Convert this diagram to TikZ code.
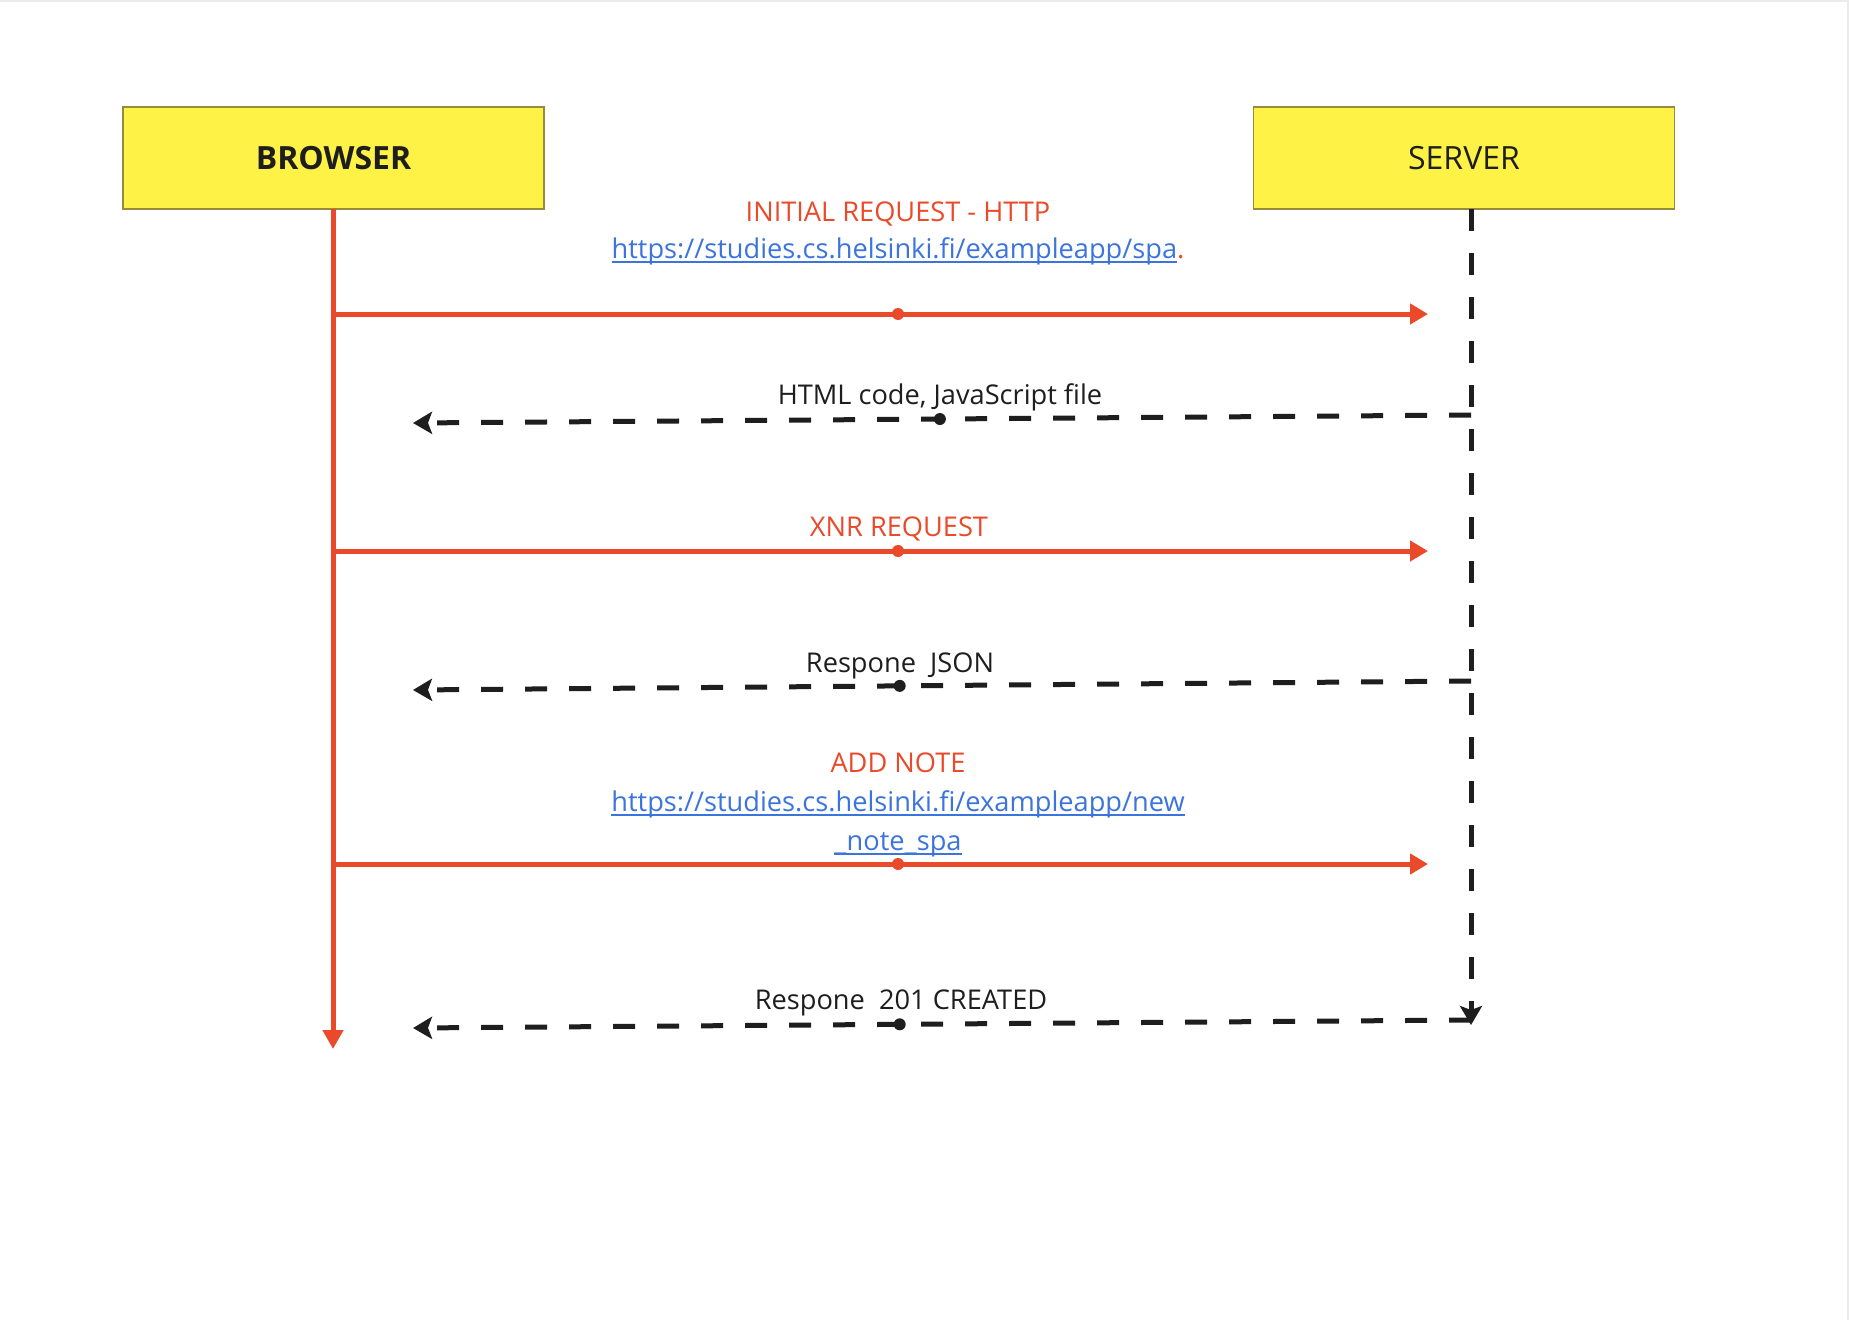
\documentclass[tikz,border=0pt]{standalone}
\usepackage{fontspec}
\setmainfont{Open Sans}
\usetikzlibrary{arrows.meta}
\definecolor{boxyellow}{RGB}{255,242,70}
\definecolor{boxedge}{RGB}{150,140,60}
\definecolor{req}{RGB}{234,74,42}
\definecolor{link}{RGB}{60,116,222}
\definecolor{ink}{RGB}{30,30,30}
\newcommand\lnk[1]{\setbox0\hbox{#1}\rlap{\rule[-4.5pt]{\wd0}{1.7pt}}\box0}
\begin{document}
\begin{tikzpicture}[x=1pt,y=-1pt,
  actor/.style={draw=boxedge, line width=1.3pt, fill=boxyellow, minimum width=421pt, minimum height=102pt, inner sep=0pt, text=ink},
  reqline/.style={draw=req, line width=5pt, -{Triangle[length=18pt,width=20pt]}},
  lifeline/.style={draw=req, line width=5pt, -{Triangle[length=19pt,width=20pt]}},
  respline/.style={draw=ink, line width=5pt, dash pattern=on 22pt off 22pt, -{Stealth[length=19pt,width=22pt,inset=4pt]}},
  dotmark/.style={circle, fill=#1, inner sep=0pt, minimum size=12pt},
  lbl/.style={font=\fontsize{27.2}{40}\selectfont, inner sep=0pt, anchor=base}]

\useasboundingbox (0,0) rectangle (1849,1320);
\fill[white] (0,0) rectangle (1849,1320);
\draw[black!8, line width=2pt] (0,1) -- (1848,1) -- (1848,1320);

% actors
\node[actor] (browser) at (333.5,158) {\fontsize{32}{40}\selectfont\bfseries BROWSER};
\node[actor] (server) at (1464,158) {\fontsize{32}{40}\selectfont SERVER};

% lifeline anchors
\coordinate (btop) at (333,209);
\coordinate (bend) at (333,1049);
\coordinate (stop) at (1471,209);
\coordinate (send) at (1471,1025);

\coordinate (b1) at (333,314);   \coordinate (s1) at (1428,314);
\coordinate (r1s) at (1471,415); \coordinate (r1e) at (413,423);
\coordinate (b2) at (333,551);   \coordinate (s2) at (1428,551);
\coordinate (r2s) at (1471,681); \coordinate (r2e) at (413,690);
\coordinate (b3) at (333,864);   \coordinate (s3) at (1428,864);
\coordinate (r3s) at (1471,1020); \coordinate (r3e) at (413,1028);

% lifelines
\draw[lifeline] (btop) -- (bend);
\draw[respline] (stop) -- (send);

% requests
\draw[reqline] (b1) -- node[pos=0.516, dotmark=req] (d1) {} (s1);
\draw[reqline] (b2) -- node[pos=0.516, dotmark=req] (d2) {} (s2);
\draw[reqline] (b3) -- node[pos=0.516, dotmark=req] (d3) {} (s3);

% responses
\draw[respline] (r1s) -- node[pos=0.502, dotmark=ink] (e1) {} (r1e);
\draw[respline] (r2s) -- node[pos=0.54, dotmark=ink] (e2) {} (r2e);
\draw[respline] (r3s) -- node[pos=0.54, dotmark=ink] (e3) {} (r3e);

% labels
\node[lbl, text=req] (t1) at (898,221) {INITIAL REQUEST - HTTP};
\node[lbl, text=link] (t1u) at (898,258.5) {\lnk{https://studies.cs.helsinki.fi/exampleapp/spa}\textcolor{req}{.}};
\node[lbl, text=ink] (t2) at (940,404) {HTML code, JavaScript file};
\node[lbl, text=req] (t3) at (899,536) {XNR REQUEST};
\node[lbl, text=ink] (t4) at (900,672) {Respone\ \ JSON};
\node[lbl, text=req] (t5) at (898,772) {ADD NOTE};
\node[lbl, text=link] (t5a) at (898,811) {\lnk{https://studies.cs.helsinki.fi/exampleapp/new}};
\node[lbl, text=link] (t5b) at (898,850) {\lnk{\_note\_spa}};
\node[lbl, text=ink] (t6) at (901,1009) {Respone\ \ 201 CREATED};
\end{tikzpicture}
\end{document}
